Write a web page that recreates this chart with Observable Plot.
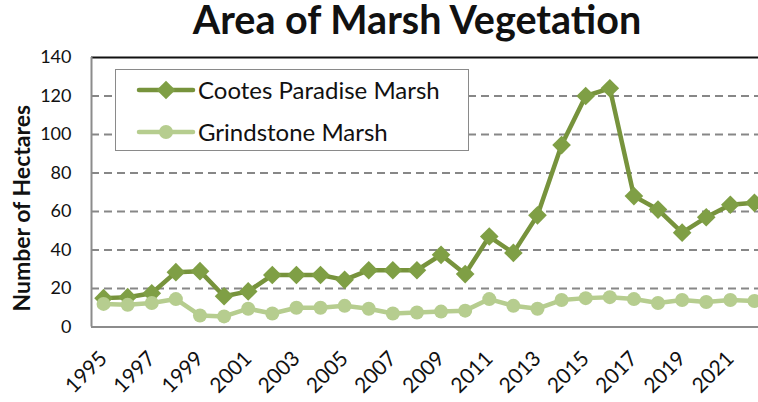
<!DOCTYPE html>
<html><head><meta charset="utf-8">
<script src="https://cdn.jsdelivr.net/npm/d3@7"></script>
<script src="https://cdn.jsdelivr.net/npm/@observablehq/plot@0.6"></script>
<style>
html,body{margin:0;padding:0;background:#fff;overflow:hidden;}
#wrap{position:relative;width:758px;height:402px;}
#legend{position:absolute;left:115px;top:69px;width:352px;height:80px;border:1.6px solid #8a8a8a;background:#fff;font-family:Lato,sans-serif;font-size:24px;color:#111;}
.lrow{position:absolute;left:0;height:30px;}
.lrow svg{position:absolute;left:20px;top:0;}
.lrow span{position:absolute;left:82px;top:0;line-height:30px;white-space:nowrap;}
</style></head><body>
<div id="wrap"><div id="chart"></div><div id="legend"></div></div>
<script>
const title = "Area of Marsh Vegetation";
const yLabel = "Number of Hectares";
const seriesNames = ["Cootes Paradise Marsh", "Grindstone Marsh"];
const years = [1995,1996,1997,1998,1999,2000,2001,2002,2003,2004,2005,2006,2007,2008,2009,2010,2011,2012,2013,2014,2015,2016,2017,2018,2019,2020,2021,2022];
const cootes = [15,15.5,17.5,28.5,29,16,18.5,27,27,27,24.5,29.5,29.5,29.5,37.5,27.5,47,38.5,58,94.5,120,124,68,61,49,57,63.5,64.5];
const grindstone = [12,11.5,12.5,14.5,6,5.5,9.5,7,10,10,11,9.5,7,7.5,8,8.5,14.5,11,9.5,14,15,15.5,14.5,12.5,14,13,14,13.5];
const yTicks = [0,20,40,60,80,100,120,140];
const xTicks = [1995,1997,1999,2001,2003,2005,2007,2009,2011,2013,2015,2017,2019,2021];
const colors = ["#77933c", "#b6cd8f"];
const markerFill = ["#7f9f45", "#b6cd8f"];

const cData = years.map((y, i) => ({year: y, value: cootes[i]}));
const gData = years.map((y, i) => ({year: y, value: grindstone[i]}));

const chart = Plot.plot({
  width: 758, height: 402,
  marginTop: 57, marginBottom: 75.5, marginLeft: 91, marginRight: 0,
  style: {fontFamily: "Lato, sans-serif", background: "white", color: "#111"},
  x: {type: "linear", domain: [1994.5, 2022.5], range: [91, 766]},
  y: {domain: [0, 140]},
  marks: [
    Plot.gridY(yTicks.filter(d => d > 0 && d < 140), {stroke: "#878787", strokeOpacity: 1, strokeWidth: 2, strokeDasharray: "8,5"}),
    Plot.ruleY([0], {stroke: "#8c8c8c", strokeWidth: 2}),
    Plot.ruleY([140], {stroke: "#111", strokeWidth: 2}),
    Plot.ruleX([1994.5], {stroke: "#8c8c8c", strokeWidth: 2}),
    Plot.axisY({ticks: yTicks, tickSize: 0, tickPadding: 20, fontSize: 18, label: null}),
    Plot.axisX({ticks: xTicks, tickSize: 0, tickPadding: 28, tickRotate: -45, fontSize: 21, label: null, tickFormat: d => String(d)}),
    Plot.line(cData, {x: "year", y: "value", stroke: colors[0], strokeWidth: 4.5}),
    Plot.dot(cData, {x: "year", y: "value", symbol: "diamond2", r: 8.4, fill: markerFill[0], stroke: "none"}),
    Plot.line(gData, {x: "year", y: "value", stroke: colors[1], strokeWidth: 4.5}),
    Plot.dot(gData, {x: "year", y: "value", symbol: "circle", r: 7, fill: markerFill[1], stroke: "none"}),
    Plot.text([yLabel], {frameAnchor: "left", textAnchor: "middle", lineAnchor: "middle", rotate: -90, dx: -69, dy: 16, fontWeight: "bold", fontSize: 23, fill: "#111"}),
    Plot.text([title], {frameAnchor: "top", textAnchor: "middle", lineAnchor: "middle", dx: -8, dy: -36, fontWeight: "bold", fontSize: 39.5, fill: "#111"})
  ]
});
document.getElementById("chart").appendChild(chart);

// legend
const legend = document.getElementById("legend");
const rowTops = [5, 47];
seriesNames.forEach((name, i) => {
  const row = document.createElement("div");
  row.className = "lrow";
  row.style.top = rowTops[i] + "px";
  const svg = d3.create("svg").attr("width", 60).attr("height", 30);
  svg.append("line").attr("x1", 3).attr("x2", 57).attr("y1", 15).attr("y2", 15)
    .attr("stroke", colors[i]).attr("stroke-width", 4.5).attr("stroke-linecap", "round");
  if (i === 0) {
    svg.append("path").attr("d", d3.symbol(d3.symbolDiamond2, Math.PI * 8.4 * 8.4)()).attr("transform", "translate(30,15)").attr("fill", markerFill[0]);
  } else {
    svg.append("circle").attr("cx", 30).attr("cy", 15).attr("r", 7).attr("fill", markerFill[1]);
  }
  row.appendChild(svg.node());
  const span = document.createElement("span");
  span.textContent = name;
  row.appendChild(span);
  legend.appendChild(row);
});
</script>
</body></html>
